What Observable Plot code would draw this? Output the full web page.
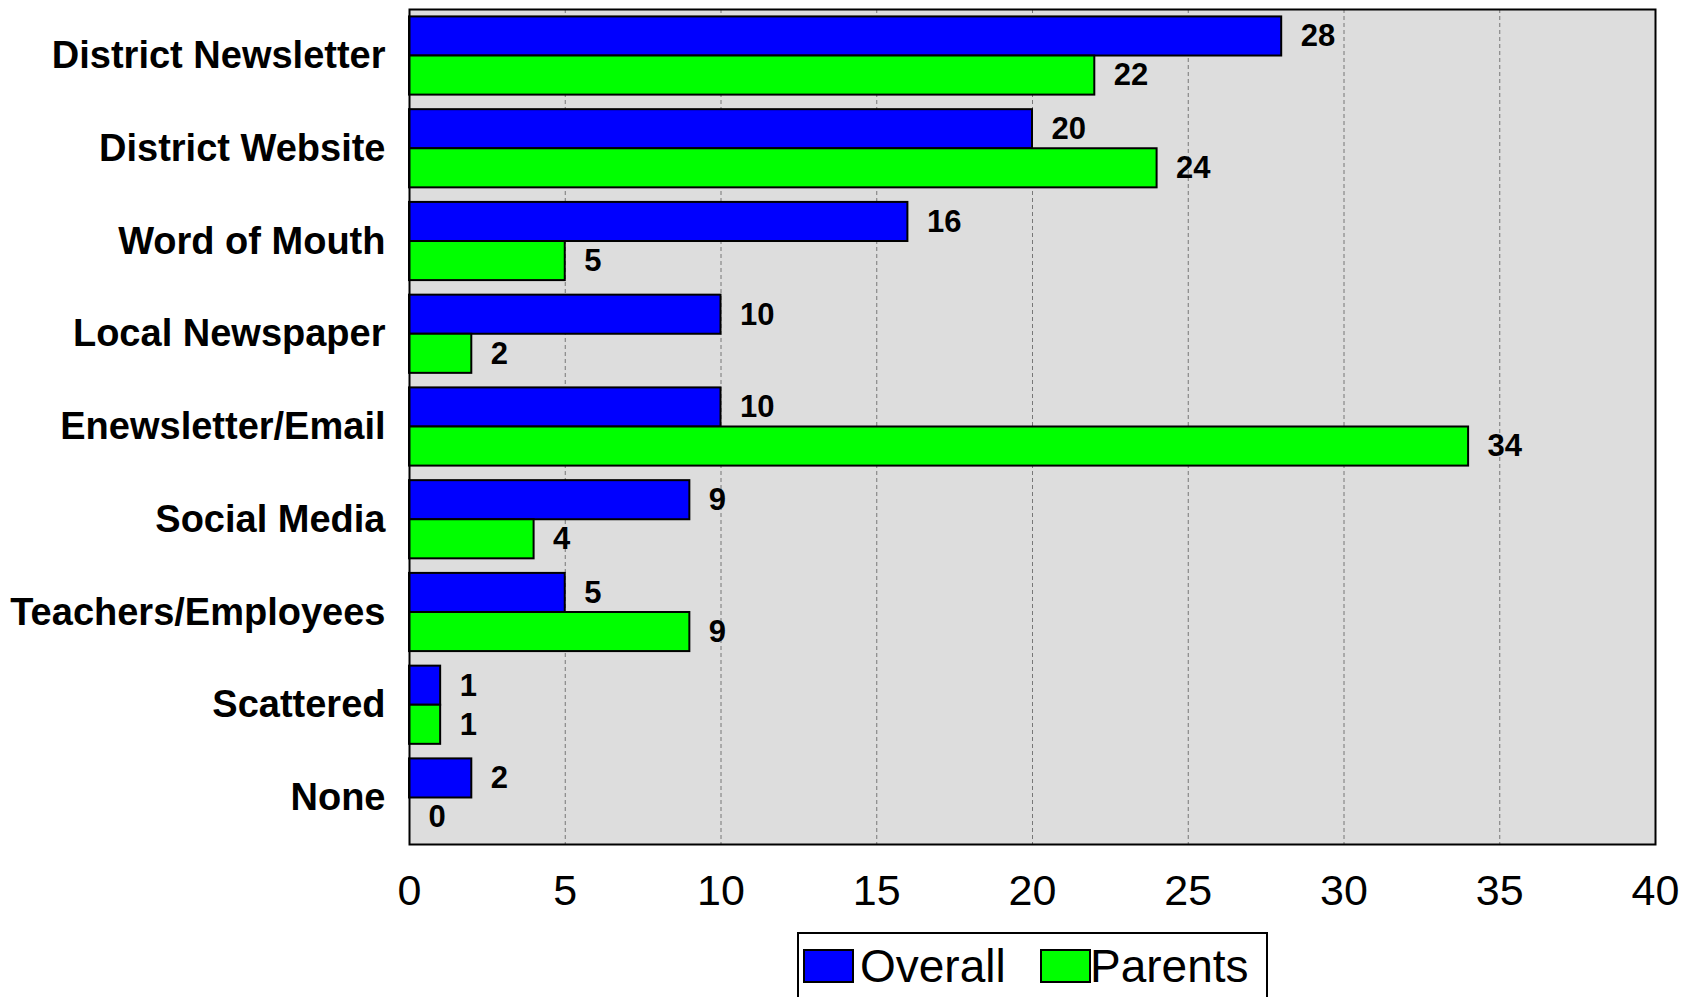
<!DOCTYPE html>
<html>
<head>
<meta charset="utf-8">
<script src="https://cdn.jsdelivr.net/npm/d3@7"></script>
<script src="https://cdn.jsdelivr.net/npm/@observablehq/plot@0.6"></script>
<style>
  body { margin: 0; background: #fff; font-family: "Liberation Sans", Arial, sans-serif; }
  #chart { position: absolute; left: 0; top: 0; }
  #legend { position: absolute; left: 797px; top: 932px; width: 471px; height: 80px; border: 2px solid #000; box-sizing: border-box; background: #fff; }
  .sw { position: absolute; width: 51px; height: 34px; box-sizing: border-box; border: 2px solid #000; top: 15px; }
  .lt { position: absolute; font-size: 46px; line-height: 46px; top: 9px; color: #000; }
</style>
</head>
<body>
<div id="chart"></div>
<div id="legend"></div>
<script>
const categories = ["District Newsletter", "District Website", "Word of Mouth", "Local Newspaper", "Enewsletter/Email", "Social Media", "Teachers/Employees", "Scattered", "None"];
const overall = [28, 20, 16, 10, 10, 9, 5, 1, 2];
const parents = [22, 24, 5, 2, 34, 4, 9, 1, 0];
const seriesNames = ["Overall", "Parents"];
const seriesColors = ["#0000ff", "#00ff00"];
const xTicks = [0, 5, 10, 15, 20, 25, 30, 35, 40];

const W = 1696, H = 925, mt = 9, mb = 81, ml = 409, mr = 41;
const yOpts = { type: "band", domain: categories, range: [mt, H - mb], paddingInner: 0.157, paddingOuter: 0.08, round: false };
const half = Plot.scale({ y: yOpts }).bandwidth / 2;

const overallRows = categories.map((c, i) => ({ category: c, value: overall[i] }));
const parentsRows = categories.map((c, i) => ({ category: c, value: parents[i] }));

const chart = Plot.plot({
  width: W, height: H,
  marginTop: mt, marginBottom: mb, marginLeft: ml, marginRight: mr,
  style: { fontFamily: "Liberation Sans, Arial, sans-serif", background: "#fff", color: "#000" },
  x: { domain: [0, 40], axis: null },
  y: { ...yOpts, axis: null },
  marks: [
    Plot.frame({ fill: "#dddddd", stroke: "none" }),
    Plot.ruleX(xTicks.filter(t => t > 0 && t < 40), { stroke: "#777", strokeWidth: 1, strokeDasharray: "4,3" }),
    Plot.barX(overallRows, { x: "value", y: "category", fill: seriesColors[0], stroke: "#000", strokeWidth: 2, insetBottom: half }),
    Plot.barX(parentsRows, { x: "value", y: "category", fill: seriesColors[1], stroke: "#000", strokeWidth: 2, insetTop: half }),
    Plot.text(overallRows, { x: "value", y: "category", text: d => String(d.value), dy: -half / 2, dx: 19, textAnchor: "start", fontSize: 31, fontWeight: "bold", fill: "#000" }),
    Plot.text(parentsRows, { x: "value", y: "category", text: d => String(d.value), dy: half / 2, dx: 19, textAnchor: "start", fontSize: 31, fontWeight: "bold", fill: "#000" }),
    Plot.frame({ stroke: "#000", strokeWidth: 2 }),
    Plot.axisX({ ticks: xTicks, tickSize: 0, tickPadding: 30, fontSize: 43, label: null, tickFormat: d => String(d) }),
    Plot.axisY({ tickSize: 0, tickPadding: 24, fontSize: 38, fontWeight: "bold", label: null })
  ]
});
document.getElementById("chart").appendChild(chart);

const legend = document.getElementById("legend");
const swLeft = [4, 241], txLeft = [61, 291];
seriesNames.forEach((name, i) => {
  const sw = document.createElement("div");
  sw.className = "sw";
  sw.style.left = swLeft[i] + "px";
  sw.style.background = seriesColors[i];
  legend.appendChild(sw);
  const t = document.createElement("span");
  t.className = "lt";
  t.style.left = txLeft[i] + "px";
  t.textContent = name;
  legend.appendChild(t);
});
</script>
</body>
</html>
